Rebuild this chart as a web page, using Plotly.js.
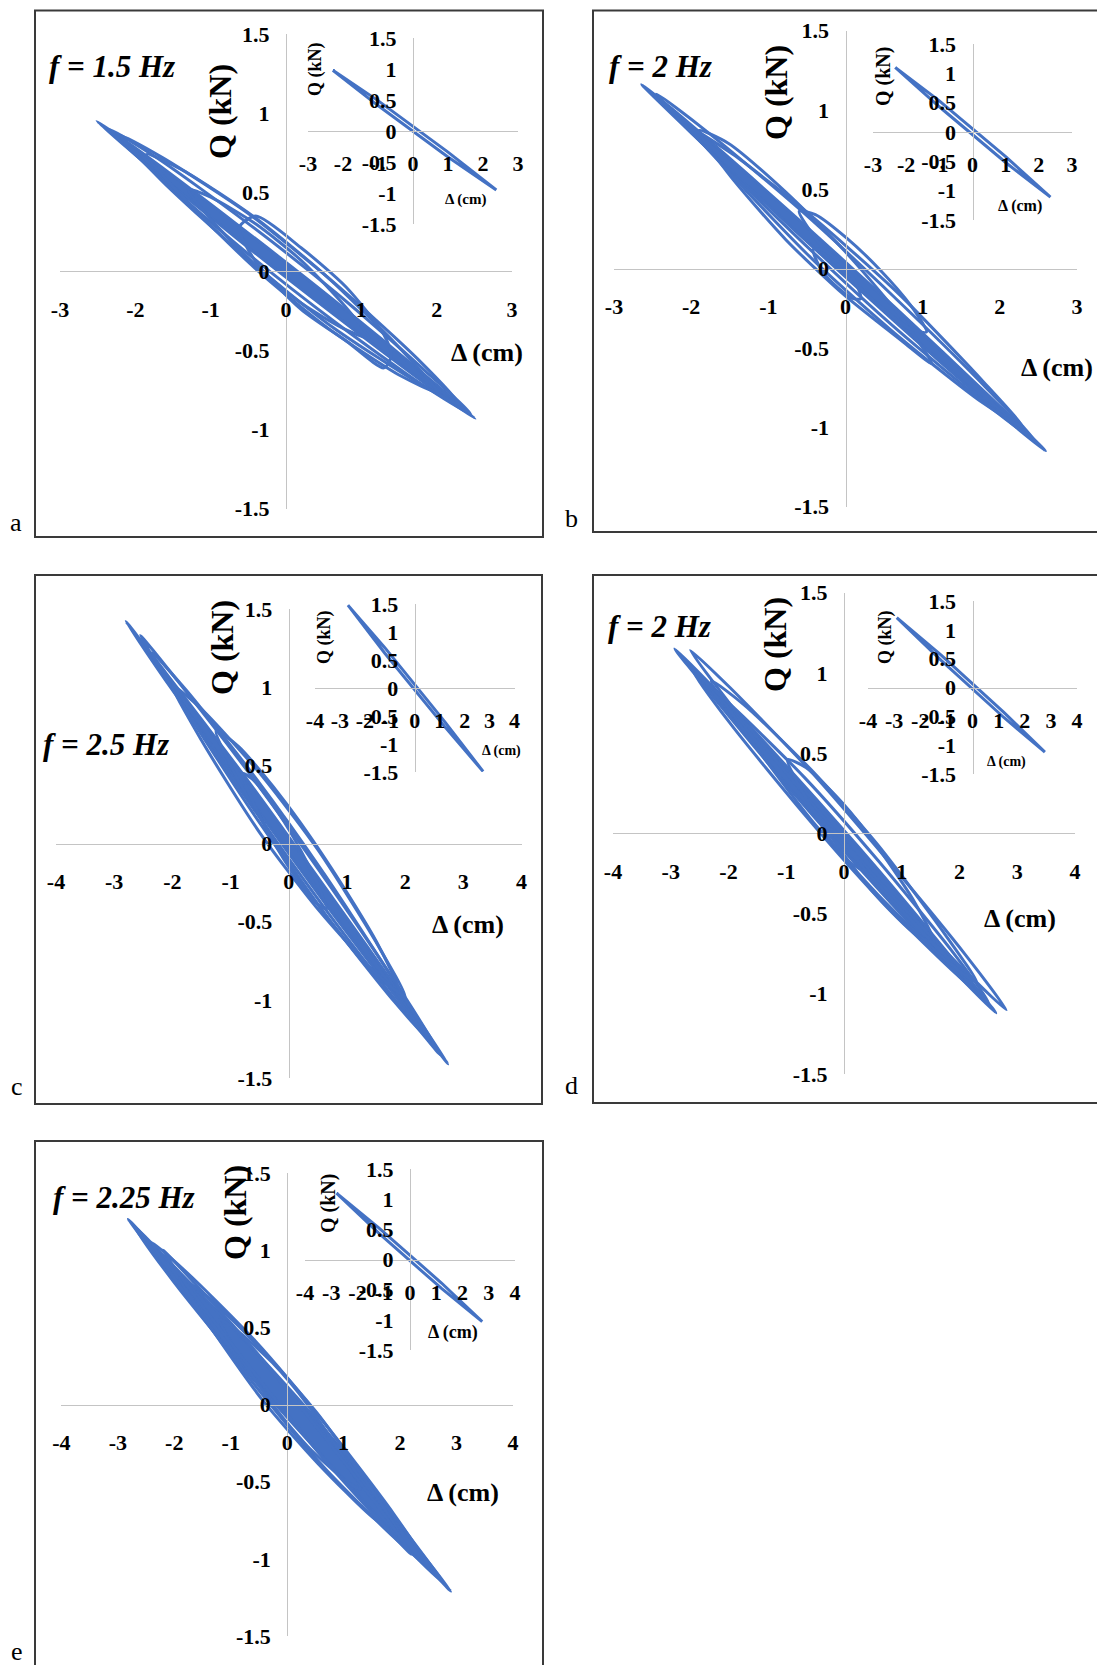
<!DOCTYPE html>
<html>
<head>
<meta charset="utf-8">
<script src="https://cdn.plot.ly/plotly-3.0.1.min.js"></script>
<style>
  html, body { margin: 0; padding: 0; background: #fff; }
  #fig { width: 1097px; height: 1665px; }
</style>
</head>
<body>
<div id="fig"></div>
<script>
// hysteresis loops: displacement (cm) / force (kN), one inner array per loop

// a) f = 1.5 Hz
const dispA = [
  [-2.51, -1.88, -0.63, 0.63, 1.88, 2.51, 1.88, 0.63, -0.63, -1.88, -2.51],
  [-2.35, -1.75, -0.55, 0.65, 1.85, 2.45, 1.85, 0.65, -0.55, -1.75, -2.35],
  [-2.2, -1.64, -0.51, 0.61, 1.74, 2.3, 1.74, 0.61, -0.51, -1.64, -2.2],
  [-1.85, -1.37, -0.41, 0.56, 1.52, 2.0, 1.52, 0.56, -0.41, -1.37, -1.85],
  [-0.62, -0.4, 0.2, 0.8, 1.3, 1.4, 1.3, 0.8, 0.2, -0.4, -0.62],
  [-1.3, -1.0, -0.4, 0.2, 0.8, 1.1, 0.8, 0.2, -0.4, -1.0, -1.3]
];
const forceA = [
  [0.95, 0.74, 0.29, -0.18, -0.67, -0.93, -0.72, -0.27, 0.20, 0.69, 0.95],
  [0.90, 0.73, 0.32, -0.13, -0.63, -0.90, -0.73, -0.32, 0.13, 0.63, 0.90],
  [0.86, 0.72, 0.37, -0.06, -0.55, -0.84, -0.70, -0.35, 0.08, 0.57, 0.86],
  [0.74, 0.64, 0.34, -0.04, -0.49, -0.76, -0.66, -0.36, 0.02, 0.47, 0.74],
  [0.28, 0.35, 0.15, -0.10, -0.40, -0.53, -0.61, -0.44, -0.24, 0.06, 0.28],
  [0.52, 0.47, 0.30, 0.07, -0.23, -0.42, -0.37, -0.20, 0.04, 0.33, 0.52]
];
const insetDispA = [-2.29, -1.0, 1.0, 2.38, 1.0, -1.0, -2.29];
const insetForceA = [0.98, 0.49, -0.34, -0.95, -0.42, 0.41, 0.98];

// b) f = 2 Hz
const dispB = [
  [-2.64, -1.99, -0.68, 0.63, 1.94, 2.59, 1.94, 0.63, -0.68, -1.99, -2.64],
  [-2.45, -1.84, -0.61, 0.61, 1.84, 2.45, 1.84, 0.61, -0.61, -1.84, -2.45],
  [-1.9, -1.52, -0.77, -0.01, 0.74, 1.12, 0.74, -0.01, -0.77, -1.52, -1.9],
  [-0.6, -0.39, 0.02, 0.43, 0.84, 1.05, 0.84, 0.43, 0.02, -0.39, -0.6],
  [-0.42, -0.3, -0.1, 0.1, 0.2, 0.1, -0.1, -0.3, -0.42],
  [-2.0, -1.46, -0.39, 0.69, 1.76, 2.3, 1.76, 0.69, -0.39, -1.46, -2.0]
];
const forceB = [
  [1.16, 0.90, 0.34, -0.24, -0.84, -1.15, -0.89, -0.33, 0.25, 0.85, 1.16],
  [1.10, 0.88, 0.38, -0.17, -0.76, -1.08, -0.86, -0.36, 0.19, 0.78, 1.10],
  [0.87, 0.79, 0.48, 0.11, -0.32, -0.60, -0.46, -0.17, 0.18, 0.60, 0.87],
  [0.36, 0.34, 0.19, 0.0, -0.23, -0.40, -0.38, -0.23, -0.04, 0.19, 0.36],
  [0.12, 0.12, 0.05, -0.06, -0.19, -0.19, -0.12, -0.02, 0.12],
  [0.88, 0.72, 0.31, -0.16, -0.70, -1.0, -0.84, -0.43, 0.04, 0.58, 0.88]
];
const insetDispB = [-2.33, -1.0, 1.0, 2.35, 1.0, -1.0, -2.33];
const insetForceB = [1.10, 0.53, -0.42, -1.11, -0.52, 0.43, 1.10];

// c) f = 2.5 Hz
const dispC = [
  [-2.8, -2.11, -0.72, 0.66, 2.05, 2.74, 2.05, 0.66, -0.72, -2.11, -2.8],
  [-2.55, -1.91, -0.62, 0.67, 1.96, 2.6, 1.96, 0.67, -0.62, -1.91, -2.55],
  [-2.35, -1.76, -0.57, 0.62, 1.81, 2.4, 1.81, 0.62, -0.57, -1.76, -2.35],
  [-1.25, -0.86, -0.07, 0.72, 1.51, 1.9, 1.51, 0.72, -0.07, -0.86, -1.25],
  [-0.8, -0.62, -0.26, 0.11, 0.47, 0.65, 0.47, 0.11, -0.26, -0.62, -0.8],
  [-2.0, -1.5, -0.5, 0.5, 1.5, 2.0, 1.5, 0.5, -0.5, -1.5, -2.0]
];
const forceC = [
  [1.42, 1.09, 0.41, -0.30, -1.03, -1.41, -1.08, -0.40, 0.31, 1.04, 1.42],
  [1.33, 1.04, 0.42, -0.25, -0.96, -1.35, -1.06, -0.44, 0.23, 0.94, 1.33],
  [1.22, 0.98, 0.42, -0.20, -0.88, -1.25, -1.01, -0.45, 0.17, 0.85, 1.22],
  [0.72, 0.62, 0.27, -0.15, -0.63, -0.95, -0.85, -0.50, -0.08, 0.40, 0.72],
  [0.45, 0.41, 0.24, 0.02, -0.24, -0.42, -0.38, -0.21, 0.01, 0.27, 0.45],
  [1.01, 0.86, 0.45, -0.04, -0.63, -0.98, -0.83, -0.42, 0.07, 0.66, 1.01]
];
const insetDispC = [-2.68, -1.2, 1.2, 2.74, 1.2, -1.2, -2.68];
const insetForceC = [1.48, 0.72, -0.60, -1.49, -0.69, 0.62, 1.48];

// d) f = 2 Hz
const dispD = [
  [-2.93, -2.24, -0.85, 0.55, 1.94, 2.63, 1.94, 0.55, -0.85, -2.24, -2.93],
  [-2.66, -1.98, -0.61, 0.76, 2.13, 2.81, 2.13, 0.76, -0.61, -1.98, -2.66],
  [-0.98, -0.66, -0.03, 0.61, 1.24, 1.56, 1.24, 0.61, -0.03, -0.66, -0.98],
  [-2.3, -1.73, -0.58, 0.58, 1.73, 2.3, 1.73, 0.58, -0.58, -1.73, -2.3],
  [-0.38, -0.2, 0.1, 0.38, 0.1, -0.2, -0.38],
  [-2.6, -1.96, -0.69, 0.59, 1.86, 2.5, 1.86, 0.59, -0.69, -1.96, -2.6]
];
const forceD = [
  [1.15, 0.90, 0.36, -0.21, -0.81, -1.12, -0.87, -0.33, 0.24, 0.84, 1.15],
  [1.14, 0.91, 0.40, -0.17, -0.77, -1.10, -0.87, -0.36, 0.21, 0.81, 1.14],
  [0.46, 0.41, 0.19, -0.10, -0.44, -0.68, -0.63, -0.41, -0.12, 0.22, 0.46],
  [0.95, 0.80, 0.40, -0.07, -0.62, -0.93, -0.78, -0.38, 0.09, 0.64, 0.95],
  [0.04, 0.02, -0.10, -0.24, -0.18, -0.06, 0.04],
  [1.00, 0.80, 0.35, -0.17, -0.73, -1.05, -0.85, -0.40, 0.12, 0.68, 1.00]
];
const insetDispD = [-2.9, -1.2, 1.2, 2.77, 1.2, -1.2, -2.9];
const insetForceD = [1.21, 0.56, -0.43, -1.12, -0.52, 0.47, 1.21];

// e) f = 2.25 Hz
const dispE = [
  [-2.82, -2.11, -0.68, 0.76, 2.19, 2.9, 2.19, 0.76, -0.68, -2.11, -2.82],
  [-2.7, -2.02, -0.66, 0.71, 2.07, 2.75, 2.07, 0.71, -0.66, -2.02, -2.7],
  [-2.4, -1.79, -0.56, 0.66, 1.89, 2.5, 1.89, 0.66, -0.56, -1.79, -2.4],
  [-1.9, -1.41, -0.44, 0.54, 1.51, 2.0, 1.51, 0.54, -0.44, -1.41, -1.9],
  [-1.2, -0.89, -0.26, 0.36, 0.99, 1.3, 0.99, 0.36, -0.26, -0.89, -1.2],
  [-2.2, -1.65, -0.55, 0.55, 1.65, 2.2, 1.65, 0.55, -0.55, -1.65, -2.2]
];
const forceE = [
  [1.20, 0.92, 0.34, -0.26, -0.88, -1.21, -0.93, -0.35, 0.25, 0.87, 1.20],
  [1.15, 0.90, 0.38, -0.18, -0.81, -1.15, -0.91, -0.37, 0.19, 0.80, 1.15],
  [1.05, 0.86, 0.41, -0.12, -0.71, -1.05, -0.86, -0.41, 0.12, 0.71, 1.05],
  [0.82, 0.70, 0.35, -0.06, -0.56, -0.85, -0.73, -0.38, 0.03, 0.53, 0.82],
  [0.55, 0.48, 0.27, 0.0, -0.34, -0.55, -0.48, -0.27, 0.0, 0.34, 0.55],
  [1.0, 0.79, 0.34, -0.16, -0.68, -0.97, -0.76, -0.31, 0.19, 0.71, 1.0]
];
const insetDispE = [-2.8, -1.2, 1.2, 2.75, 1.2, -1.2, -2.8];
const insetForceE = [1.10, 0.53, -0.39, -1.03, -0.48, 0.44, 1.10];

const xTicks3 = [-3, -2, -1, 0, 1, 2, 3];
const xTicks4 = [-4, -3, -2, -1, 0, 1, 2, 3, 4];
const qTicks = [-1.5, -1, -0.5, 0, 0.5, 1, 1.5];
const freqLabels = ['f = 1.5 Hz', 'f = 2 Hz', 'f = 2.5 Hz', 'f = 2 Hz', 'f = 2.25 Hz'];
const panelLetters = ['a', 'b', 'c', 'd', 'e'];

const W = 1097, H = 1665;
const BLUE = '#4472C4';
const SERIF = '"Liberation Serif", "Times New Roman", serif';

// pixel layout of each panel: [left, top, right, bottom]
// solid = how many of the thin core loops are drawn filled (dense overlap in the original)
const panels = [
  { disp: dispA, force: forceA, inDisp: insetDispA, inForce: insetForceA, ticks: xTicks3, inTicks: xTicks3, solid: 1,
    main: [60, 34.3, 512, 508.6], inset: [308, 38, 518, 224], box: [35, 10.5, 543, 537],
    fPos: [112, 66], letterPos: [16, 522], qPos: [220, 112], dPos: [487, 352],
    inQPos: [315, 69], inDPos: [465, 200], inQSize: 18, inDSize: 15 },
  { disp: dispB, force: forceB, inDisp: insetDispB, inForce: insetForceB, ticks: xTicks3, inTicks: xTicks3, solid: 1,
    main: [614, 30.5, 1077, 506.5], inset: [873, 44, 1072, 220], box: [593, 10.5, 1102, 532],
    fPos: [660, 66], letterPos: [571, 518], qPos: [776, 93], dPos: [1057, 367],
    inQPos: [883, 77], inDPos: [1020, 206], inQSize: 20, inDSize: 16 },
  { disp: dispC, force: forceC, inDisp: insetDispC, inForce: insetForceC, ticks: xTicks4, inTicks: xTicks4, solid: 1,
    main: [56, 609, 521.5, 1078], inset: [315, 604, 514.5, 772], box: [35, 575, 542, 1104],
    fPos: [106, 744], letterPos: [17, 1086], qPos: [222, 648], dPos: [468, 924],
    inQPos: [324, 637], inDPos: [501, 751], inQSize: 18, inDSize: 14 },
  { disp: dispD, force: forceD, inDisp: insetDispD, inForce: insetForceD, ticks: xTicks4, inTicks: xTicks4, solid: 1,
    main: [613, 592.6, 1075, 1074], inset: [868, 601, 1077, 774], box: [593, 575, 1102, 1103],
    fPos: [659, 626], letterPos: [571, 1085], qPos: [775, 645], dPos: [1020, 919],
    inQPos: [885, 637], inDPos: [1006, 762], inQSize: 18, inDSize: 14 },
  { disp: dispE, force: forceE, inDisp: insetDispE, inForce: insetForceE, ticks: xTicks4, inTicks: xTicks4, solid: 2,
    main: [61.4, 1173, 512.9, 1636], inset: [305, 1169, 515, 1350], box: [35, 1141, 543, 1672],
    fPos: [124, 1197], letterPos: [17, 1651], qPos: [235, 1213], dPos: [463, 1492],
    inQPos: [328, 1204], inDPos: [453, 1332], inQSize: 20, inDSize: 18 }
];

const traces = [];
const layout = {
  width: W, height: H,
  margin: { l: 0, r: 0, t: 0, b: 0 },
  paper_bgcolor: '#ffffff',
  plot_bgcolor: 'rgba(0,0,0,0)',
  showlegend: false,
  hovermode: false,
  shapes: [],
  annotations: []
};

function addAxes(n, rect, ticks, xStandoff, yStandoff) {
  const s = n === 1 ? '' : String(n);
  const font = { family: SERIF, size: 22, color: '#000', weight: 'bold' };
  layout['xaxis' + s] = {
    domain: [rect[0] / W, rect[2] / W],
    range: [ticks[0], ticks[ticks.length - 1]],
    anchor: 'free',
    position: 1 - (rect[1] + rect[3]) / 2 / H,
    tickmode: 'array', tickvals: ticks, ticktext: ticks.map(String),
    showline: true, linecolor: '#c4c4c4', linewidth: 1,
    showgrid: false, zeroline: false, ticks: '',
    tickfont: font, ticklabelstandoff: xStandoff, fixedrange: true
  };
  layout['yaxis' + s] = {
    domain: [1 - rect[3] / H, 1 - rect[1] / H],
    range: [-1.5, 1.5],
    anchor: 'free',
    position: (rect[0] + rect[2]) / 2 / W,
    tickmode: 'array', tickvals: qTicks, ticktext: qTicks.map(String),
    showline: true, linecolor: '#c4c4c4', linewidth: 1,
    showgrid: false, zeroline: false, ticks: '',
    tickfont: font, ticklabelstandoff: yStandoff, fixedrange: true
  };
  return ['x' + s, 'y' + s];
}

function label(text, pos, size, opts) {
  layout.annotations.push(Object.assign({
    text: text, xref: 'paper', yref: 'paper',
    x: pos[0] / W, y: 1 - pos[1] / H,
    xanchor: 'center', yanchor: 'middle', showarrow: false,
    font: { family: SERIF, size: size, color: '#000', weight: 'bold' }
  }, opts || {}));
}

panels.forEach((p, i) => {
  const [mx, my] = addAxes(2 * i + 1, p.main, p.ticks, 18, 12);
  const [ix, iy] = addAxes(2 * i + 2, p.inset, p.inTicks, 13, 12);

  p.disp.forEach((loop, k) => {
    const filled = k < p.solid;
    traces.push({
      x: loop, y: p.force[k], xaxis: mx, yaxis: my,
      type: 'scatter', mode: 'lines',
      fill: filled ? 'toself' : 'none', fillcolor: BLUE,
      line: { color: BLUE, width: 3, shape: 'spline', smoothing: 0.7 }
    });
  });
  traces.push({
    x: p.inDisp, y: p.inForce, xaxis: ix, yaxis: iy,
    type: 'scatter', mode: 'lines',
    line: { color: BLUE, width: 3 }
  });

  const b = p.box;
  layout.shapes.push({
    type: 'rect', xref: 'paper', yref: 'paper',
    x0: b[0] / W, x1: b[2] / W, y0: 1 - b[3] / H, y1: 1 - b[1] / H,
    line: { color: '#3a3a3a', width: 2 }
  });

  label(freqLabels[i], p.fPos, 31, { font: { family: SERIF, size: 31, color: '#000', weight: 'bold', style: 'italic' } });
  label(panelLetters[i], p.letterPos, 26, { font: { family: SERIF, size: 26, color: '#000' } });
  label('Q (kN)', p.qPos, 32, { textangle: -90 });
  label('Δ (cm)', p.dPos, 26);
  label('Q (kN)', p.inQPos, p.inQSize, { textangle: -90 });
  label('Δ (cm)', p.inDPos, p.inDSize);
});

Plotly.newPlot('fig', traces, layout, { displayModeBar: false, staticPlot: true });
</script>
</body>
</html>
